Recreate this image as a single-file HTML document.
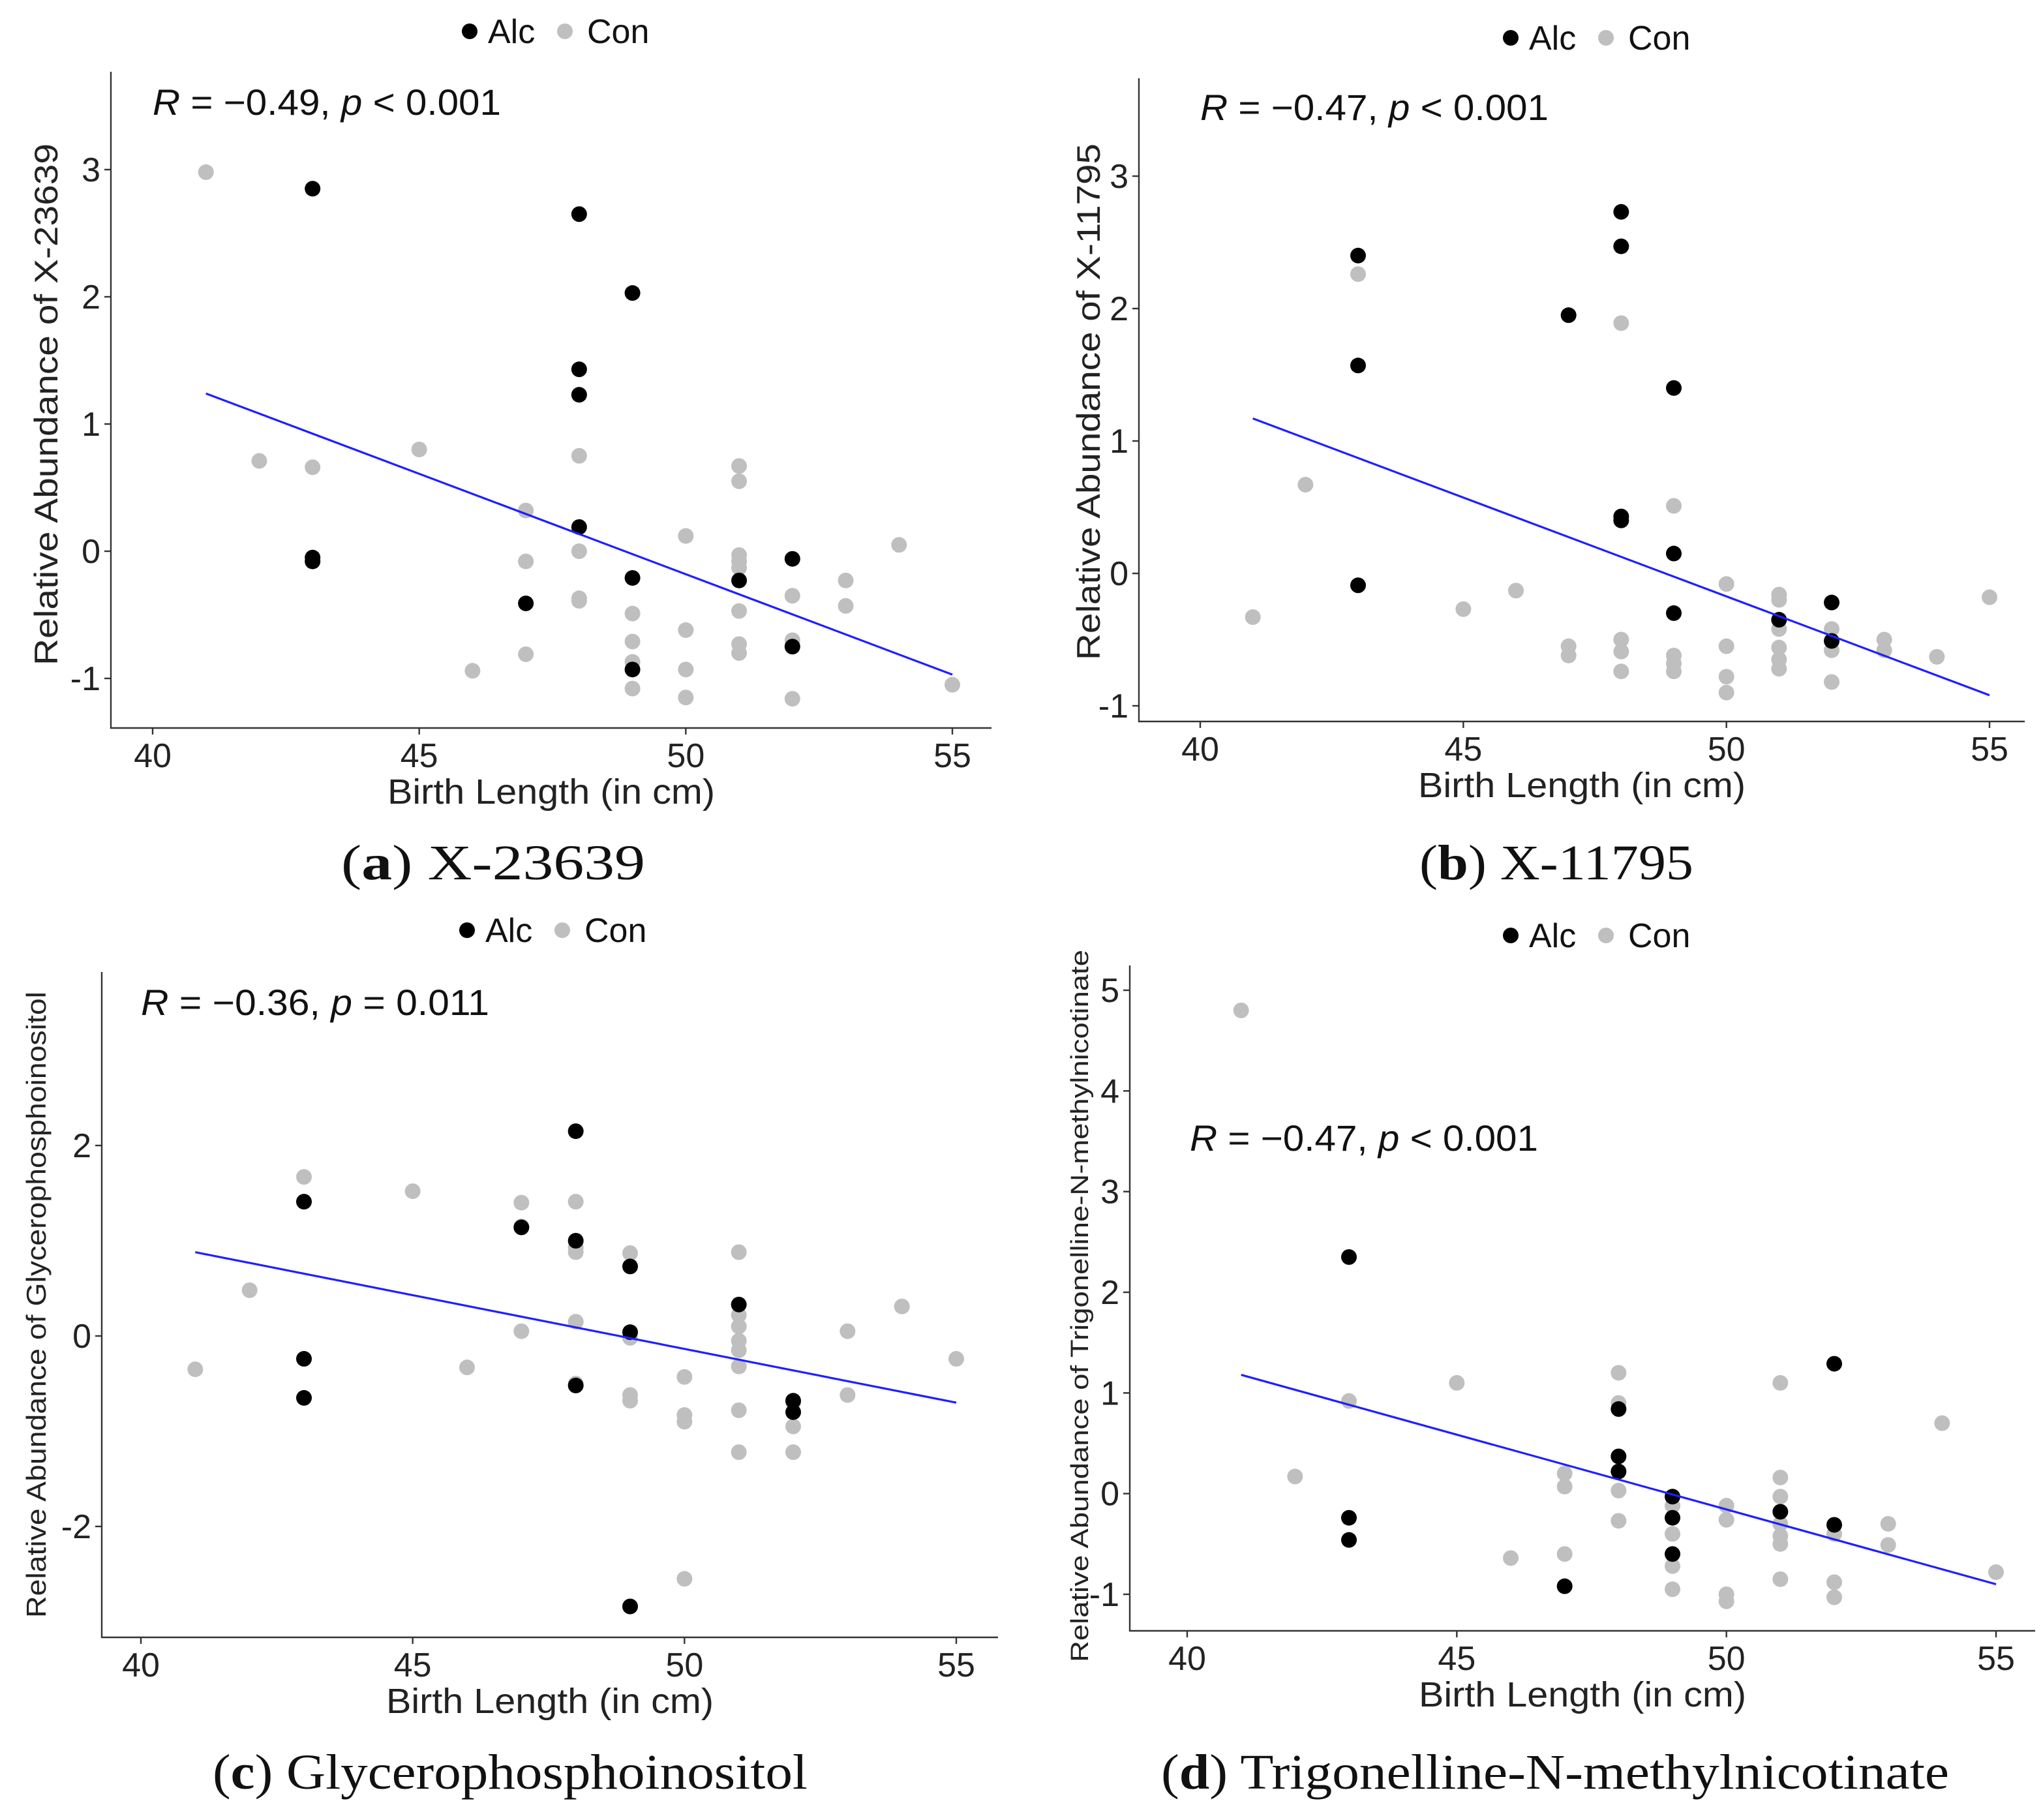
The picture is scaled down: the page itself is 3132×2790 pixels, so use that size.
<!DOCTYPE html>
<html><head><meta charset="utf-8"><style>
html,body{margin:0;padding:0;background:#fff;}
svg{display:block;}
text{font-family:"Liberation Sans",sans-serif;}
.cap{font-family:"Liberation Serif",serif;font-size:38px;}
</style></head><body>
<svg id="fig" width="3132" height="2790" viewBox="0 0 1566 1395" xmlns="http://www.w3.org/2000/svg"></svg>
<script>
const xTicks=[40,45,50,55];
const aAlcX=[43,43,43,48,48,48,48,49,49,49,47,51,52,52];
const aAlcY=[2.85,-0.05,-0.08,2.65,1.43,1.23,0.19,2.03,-0.21,-0.93,-0.41,-0.23,-0.06,-0.75];
const aConX=[41,42,43,45,46,47,47,47,48,48,48,48,49,49,49,49,50,50,50,50,51,51,51,51,51,51,51,51,52,52,52,53,53,54,55];
const aConY=[2.98,0.71,0.66,0.80,-0.94,0.32,-0.08,-0.81,0.75,0.0,-0.37,-0.39,-0.49,-0.71,-0.87,-1.08,0.12,-0.62,-0.93,-1.15,0.67,0.55,-0.03,-0.08,-0.13,-0.47,-0.73,-0.80,-0.35,-0.70,-1.16,-0.23,-0.43,0.05,-1.05];
const aFit=[1.24,-0.97];
const bAlcX=[43,43,43,47,48,48,48,48,49,49,49,51,52,52];
const bAlcY=[2.4,1.57,-0.09,1.95,2.73,2.47,0.43,0.40,1.40,0.15,-0.30,-0.35,-0.22,-0.51];
const bConX=[41,42,43,45,46,47,47,48,48,48,48,49,49,49,49,50,50,50,50,51,51,51,51,51,51,52,52,52,53,53,54,55];
const bConY=[-0.33,0.67,2.26,-0.27,-0.13,-0.55,-0.62,1.89,-0.50,-0.59,-0.74,0.51,-0.62,-0.68,-0.74,-0.08,-0.55,-0.78,-0.90,-0.16,-0.20,-0.42,-0.56,-0.65,-0.72,-0.42,-0.58,-0.82,-0.50,-0.58,-0.63,-0.18];
const bFit=[1.17,-0.92];
const cAlcX=[43,43,43,47,48,48,48,49,49,49,51,52,52];
const cAlcY=[1.41,-0.24,-0.65,1.14,2.15,1.0,-0.52,0.73,0.04,-2.84,0.33,-0.68,-0.80];
const cConX=[41,42,43,45,46,47,47,47,48,48,48,48,48,49,49,49,49,50,50,50,50,51,51,51,51,51,51,51,51,52,52,52,53,53,54,55];
const cConY=[-0.35,0.48,1.67,1.52,-0.33,1.40,1.15,0.05,1.41,0.93,0.88,0.15,-0.50,0.87,-0.02,-0.62,-0.68,-0.43,-0.83,-0.90,-2.55,0.88,0.22,0.10,-0.05,-0.15,-0.32,-0.78,-1.22,-0.70,-0.95,-1.22,0.05,-0.62,0.31,-0.24];
const cFit=[0.88,-0.70];
const dAlcX=[43,43,43,47,48,48,48,49,49,49,51,52,52];
const dAlcY=[2.35,-0.24,-0.46,-0.92,0.84,0.37,0.22,-0.03,-0.24,-0.60,-0.18,1.29,-0.31];
const dConX=[41,42,43,45,46,47,47,47,48,48,48,48,49,49,49,49,50,50,50,50,51,51,51,51,51,51,51,52,52,52,53,53,54,55];
const dConY=[4.8,0.17,0.92,1.10,-0.64,0.20,0.07,-0.60,1.20,0.90,0.03,-0.27,-0.12,-0.40,-0.72,-0.95,-0.12,-0.26,-1.00,-1.07,1.10,0.16,-0.03,-0.30,-0.42,-0.50,-0.85,-0.40,-0.88,-1.03,-0.30,-0.51,0.70,-0.78];
const dFit=[1.18,-0.90];

const NS='http://www.w3.org/2000/svg';
const svg=document.getElementById('fig');
function mk(tag,attrs,parent){const e=document.createElementNS(NS,tag);for(const k in attrs)e.setAttribute(k,attrs[k]);(parent||svg).appendChild(e);return e;}

const panels=[
 {id:'a',left:85,right:760,top:55,bottom:558,x40:117,x55:730,yv1:3,yp1:130,yv2:-1,yp2:520,yTicks:[-1,0,1,2,3],
  alcX:aAlcX,alcY:aAlcY,conX:aConX,conY:aConY,fit:aFit,r:'−0.49',pop:'<',pv:'0.001',rx:117,ry:88,
  ytitle:'Relative Abundance of X-23639',ytx:44,yty:310,yfs:25,ylen:400,legx:430,legy:33,cap:'X-23639',capx:378,capy:674,caplen:233},
 {id:'b',left:873,right:1552,top:60,bottom:553,x40:920,x55:1525,yv1:3,yp1:135,yv2:-1,yp2:541,yTicks:[-1,0,1,2,3],
  alcX:bAlcX,alcY:bAlcY,conX:bConX,conY:bConY,fit:bFit,r:'−0.47',pop:'<',pv:'0.001',rx:920,ry:92,
  ytitle:'Relative Abundance of X-11795',ytx:843,yty:308,yfs:25,ylen:396,legx:1228,legy:38,cap:'X-11795',capx:1193,capy:674,caplen:210},
 {id:'c',left:78,right:765,top:745,bottom:1255,x40:108,x55:733,yv1:2,yp1:878,yv2:-2,yp2:1170,yTicks:[-2,0,2],
  alcX:cAlcX,alcY:cAlcY,conX:cConX,conY:cConY,fit:cFit,r:'−0.36',pop:'=',pv:'0.011',rx:108,ry:778,
  ytitle:'Relative Abundance of Glycerophosphoinositol',ytx:35,yty:1000,yfs:21,ylen:480,legx:428,legy:722,cap:'Glycerophosphoinositol',capx:391,capy:1371,caplen:456},
 {id:'d',left:866,right:1560,top:740,bottom:1250,x40:910,x55:1530,yv1:5,yp1:759,yv2:-1,yp2:1222,yTicks:[-1,0,1,2,3,4,5],
  alcX:dAlcX,alcY:dAlcY,conX:dConX,conY:dConY,fit:dFit,r:'−0.47',pop:'<',pv:'0.001',rx:912,ry:882,
  ytitle:'Relative Abundance of Trigonelline-N-methylnicotinate',ytx:834,yty:1001,yfs:19,ylen:546,legx:1228,legy:726,cap:'Trigonelline-N-methylnicotinate',capx:1192,capy:1371,caplen:604}
];
const labels={a:'a',b:'b',c:'c',d:'d'};
panels.forEach(p=>{
 const g=mk('g',{});
 
 
 const X=v=>p.x40+(v-40)*(p.x55-p.x40)/15;
 const Y=v=>p.yp1+(v-p.yv1)*(p.yp2-p.yp1)/(p.yv2-p.yv1);
 const ax=mk('path',{d:`M${p.left} ${p.top} V${p.bottom} H${p.right}`,stroke:'#333',fill:'none','stroke-width':1.2},g);
 
 
 xTicks.forEach(t=>{
  mk('line',{x1:X(t),x2:X(t),y1:p.bottom,y2:p.bottom+5,stroke:'#333','stroke-width':1.2},g);
  const tx=mk('text',{x:X(t),y:p.bottom+30,'font-size':26,'text-anchor':'middle',fill:'#222'},g);
  tx.textContent=t;
  
  
 });
 p.yTicks.forEach(t=>{
  mk('line',{x1:p.left-5,x2:p.left,y1:Y(t),y2:Y(t),stroke:'#333','stroke-width':1.2},g);
  const tx=mk('text',{x:p.left-8,y:Y(t)+9,'font-size':26,'text-anchor':'end',fill:'#222'},g);
  tx.textContent=t;
  
  
 });
 p.conX.forEach((v,i)=>{
  const c=mk('circle',{cx:X(v),cy:Y(p.conY[i]),r:6,fill:'#bfbfbf'},g);
  
  
 });
 p.alcX.forEach((v,i)=>{
  const c=mk('circle',{cx:X(v),cy:Y(p.alcY[i]),r:6,fill:'#000'},g);
  
  
 });
 const ln=mk('line',{x1:X(41),y1:Y(p.fit[0]),x2:X(55),y2:Y(p.fit[1]),stroke:'#1f1fff','stroke-width':1.6},g);
 
 
 const xt=mk('text',{x:(p.left+p.right)/2,y:p.bottom+58,'font-size':27,'text-anchor':'middle',fill:'#222',textLength:251,lengthAdjust:'spacingAndGlyphs'},g);
 xt.textContent='Birth Length (in cm)';
 
 
 const yt=mk('text',{x:p.ytx,y:p.yty,'font-size':p.yfs,'text-anchor':'middle',fill:'#222',textLength:p.ylen,lengthAdjust:'spacingAndGlyphs',transform:`rotate(-90 ${p.ytx} ${p.yty})`},g);
 yt.textContent=p.ytitle;
 
 
 const st=mk('text',{x:p.rx,y:p.ry,'font-size':28,fill:'#111',textLength:267,lengthAdjust:'spacingAndGlyphs'},g);
 st.innerHTML=`<tspan font-style="italic">R</tspan> = ${p.r}, <tspan font-style="italic">p</tspan> ${p.pop.replace('<','&lt;')} ${p.pv}`;
 
 
 const lg=mk('g',{},g);
 
 
 mk('circle',{cx:p.legx-70,cy:p.legy-9,r:6,fill:'#000'},lg);
 const t1=mk('text',{x:p.legx-56,y:p.legy,'font-size':26,fill:'#111'},lg);t1.textContent='Alc';
 mk('circle',{cx:p.legx+3,cy:p.legy-9,r:6,fill:'#bfbfbf'},lg);
 const t2=mk('text',{x:p.legx+20,y:p.legy,'font-size':26,fill:'#111'},lg);t2.textContent='Con';
 const cp=mk('text',{x:p.capx,y:p.capy,'text-anchor':'middle',class:'cap',fill:'#111',textLength:p.caplen,lengthAdjust:'spacingAndGlyphs'},g);
 cp.innerHTML=`(<tspan font-weight="bold">${labels[p.id]}</tspan>) ${p.cap}`;
 
 
});
</script>
</body></html>
